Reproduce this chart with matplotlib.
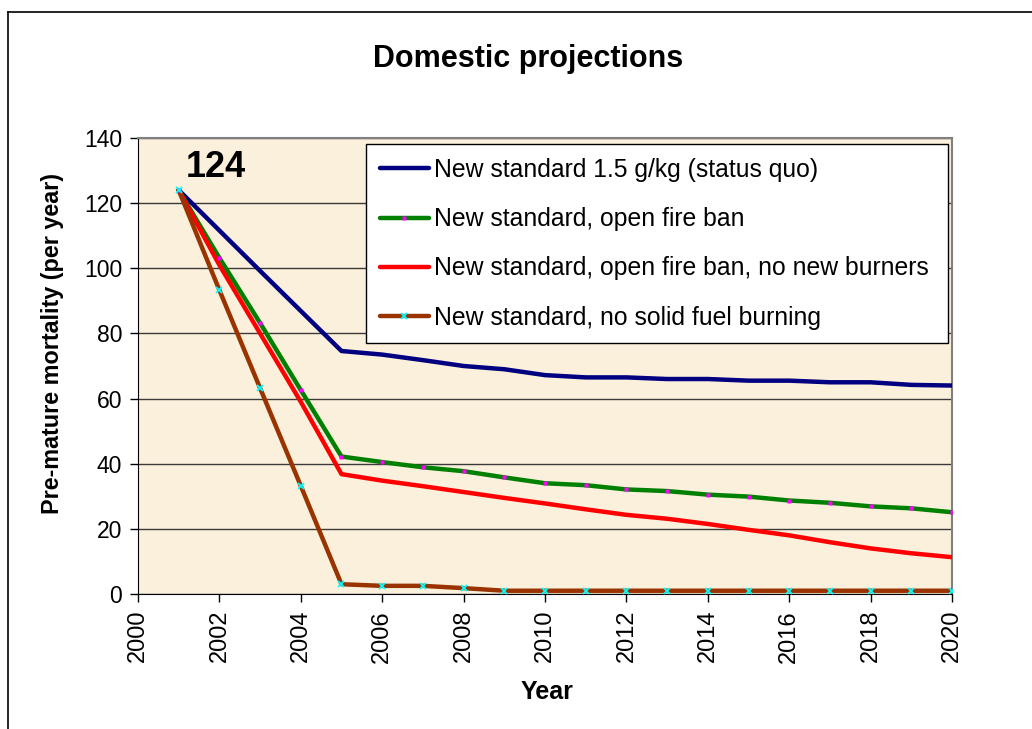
import matplotlib.pyplot as plt
from matplotlib.lines import Line2D

plt.rcParams['font.family'] = ['Liberation Sans', 'DejaVu Sans']

# Data
years = list(range(2001, 2021))
status_quo = [124, 111.6, 99.2, 86.9, 74.6, 73.5, 71.8, 70.0, 69.0, 67.2,
              66.5, 66.5, 66.0, 66.0, 65.5, 65.5, 65.0, 65.0, 64.2, 64.0]
open_fire_ban = [124, 103.2, 83.2, 62.6, 42.2, 40.5, 38.9, 37.7, 35.8, 34.0,
                 33.4, 32.1, 31.6, 30.5, 29.9, 28.7, 28.0, 26.9, 26.3, 25.1]
no_new_burners = [124, 101.0, 80.0, 59.0, 36.8, 34.8, 33.1, 31.3, 29.5, 27.8,
                  26.0, 24.3, 23.1, 21.5, 19.7, 18.0, 15.9, 14.0, 12.5, 11.3]
no_solid_fuel = [124, 93.3, 63.2, 33.2, 3.0, 2.5, 2.5, 1.8, 1.0, 1.0,
                 1.0, 1.0, 1.0, 1.0, 1.0, 1.0, 1.0, 1.0, 1.0, 1.0]

labels = ['New standard 1.5 g/kg (status quo)',
          'New standard, open fire ban',
          'New standard, open fire ban, no new burners',
          'New standard, no solid fuel burning']

fig = plt.figure(figsize=(10.32, 7.29), dpi=100)
ax = fig.add_axes([0.1337, 0.1852, 0.7888, 0.6255])
ax.set_facecolor('#FBF0DC')

# Outer chart border (only top and left visible in the reference)
fig.add_artist(Line2D([8 / 1032, 8 / 1032], [0, 1 - 12 / 729],
                      transform=fig.transFigure, color='black', lw=1.2))
fig.add_artist(Line2D([8 / 1032, 1], [1 - 12 / 729, 1 - 12 / 729],
                      transform=fig.transFigure, color='black', lw=1.2))

# Lines
ax.plot(years, status_quo, color='#000080', lw=3.2, solid_capstyle='round',
        solid_joinstyle='round', zorder=3)
ax.plot(years, open_fire_ban, color='#008000', lw=3.2, solid_capstyle='round',
        solid_joinstyle='round', zorder=3)
ax.plot(years, no_new_burners, color='#FF0000', lw=3.2, solid_capstyle='round',
        solid_joinstyle='round', zorder=3)
ax.plot(years, no_solid_fuel, color='#993300', lw=3.2, solid_capstyle='round',
        solid_joinstyle='round', zorder=3)

# Markers drawn on top of every line
ax.plot(years, open_fire_ban, ls='none', marker='s', ms=3, color='#FF00FF',
        mec='none', zorder=4)
ax.plot(years, no_solid_fuel, ls='none', marker='x', ms=4.5, mew=1.3,
        color='#00FFFF', zorder=4)

ax.set_xlim(2000, 2020)
ax.set_ylim(0, 140)
ax.set_xticks(range(2000, 2021, 2))
ax.set_yticks(range(0, 141, 20))
ax.tick_params(axis='x', labelrotation=90, labelsize=17, direction='out',
               length=6, width=1, pad=5.5)
ax.tick_params(axis='y', labelsize=16.5, direction='out', length=6, width=1,
               pad=5.5)
ax.yaxis.grid(True, color='#3a3a3a', lw=1)
ax.set_axisbelow(True)

for side in ['left', 'bottom']:
    ax.spines[side].set_color('black')
for side in ['top', 'right']:
    ax.spines[side].set_color('#808080')
    ax.spines[side].set_linewidth(1.5)

ax.set_xlabel('Year', fontsize=18, fontweight='bold')
ax.xaxis.set_label_coords(0.503, -0.189)
ax.set_ylabel('Pre-mature mortality (per year)', fontsize=16.8,
              fontweight='bold')
ax.yaxis.set_label_coords(-0.091, 0.549)
fig.text(0.512, 0.919, 'Domestic projections', ha='center', va='center',
         fontsize=22, fontweight='bold')

ax.text(2001.92, 131.0, '124', ha='center', va='center', fontsize=26,
        fontweight='bold')

# Legend
handles = [
    Line2D([], [], color='#000080', lw=3.2, solid_capstyle='round'),
    Line2D([], [], color='#008000', lw=3.2, solid_capstyle='round',
           marker='s', ms=3, mfc='#FF00FF', mec='none'),
    Line2D([], [], color='#FF0000', lw=3.2, solid_capstyle='round'),
    Line2D([], [], color='#993300', lw=3.2, solid_capstyle='round',
           marker='x', ms=4.5, mew=1.3, mec='#00FFFF'),
]
leg = ax.legend(handles, labels, loc='upper left',
                bbox_to_anchor=(0.280, 0.986, 0.715, 0.0), mode='expand',
                fontsize=17.8, frameon=True, fancybox=False, framealpha=1,
                edgecolor='black', handlelength=2.0, handletextpad=0.2,
                labelspacing=1.02, borderpad=0.55, borderaxespad=0)
leg.get_frame().set_linewidth(1.0)
leg.set_zorder(5)

fig.savefig('out.png', dpi=100)
